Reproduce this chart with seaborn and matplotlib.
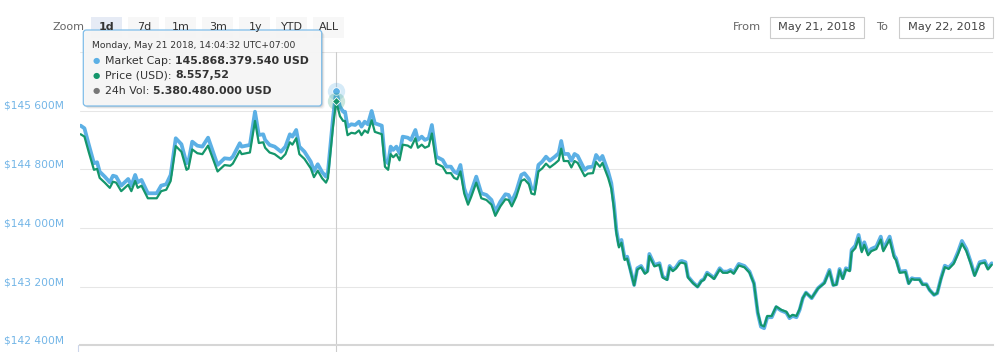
import numpy as np
import pandas as pd
import matplotlib
matplotlib.use("Agg")
import matplotlib.pyplot as plt
import seaborn as sns
from matplotlib.patches import FancyBboxPatch, Rectangle
from matplotlib.lines import Line2D
from matplotlib.transforms import ScaledTranslation

# ---------------- data ----------------
# minutes after 07:20 (May 21, 2018, UTC+07:00)
minutes = [1, 7, 14, 22, 27, 31, 39, 47, 52, 57,
           65, 76, 81, 87, 91, 97, 107, 121, 128, 136,
           143, 151, 160, 168, 171, 177, 185, 193, 202, 217,
           228, 237, 241, 252, 255, 262, 268, 276, 282, 289,
           292, 299, 307, 317, 324, 331, 335, 341, 346, 354,
           364, 369, 375, 382, 388, 391, 399, 404, 410, 415,
           418, 422, 428, 434, 440, 444, 449, 454, 460, 465,
           473, 476, 481, 486, 490, 494, 499, 504, 509, 517,
           522, 529, 533, 539, 544, 550, 555, 562, 567, 572,
           578, 585, 590, 595, 600, 606, 612, 617, 625, 633,
           641, 649, 655, 663, 671, 676, 681, 688, 696, 701,
           708, 712, 717, 723, 729, 735, 741, 749, 755, 759,
           763, 770, 775, 780, 785, 796, 801, 809, 814, 820,
           824, 833, 838, 842, 846, 850, 854, 859, 863, 867,
           874, 879, 885, 891, 895, 898, 906, 914, 919, 926,
           930, 935, 940, 946, 949, 955, 959, 967, 974, 980,
           984, 989, 996, 1000, 1009, 1014, 1021, 1026, 1031, 1039,
           1048, 1056, 1063, 1069, 1074, 1079, 1084, 1091, 1098, 1106,
           1114, 1119, 1124, 1130, 1135, 1140, 1145, 1154, 1164, 1174,
           1182, 1188, 1193, 1198, 1203, 1208, 1214, 1217, 1223, 1228,
           1233, 1237, 1243, 1248, 1256, 1263, 1267, 1277, 1284, 1287,
           1293, 1302, 1307, 1312, 1316, 1324, 1329, 1335, 1340, 1347,
           1352, 1358, 1364, 1370, 1378, 1385, 1391, 1398, 1405, 1411,
           1419, 1427, 1432, 1438]

# Market Cap, millions USD
market_cap = [145396, 145360, 145133, 144883, 144897, 144769, 144701, 144624, 144714, 144701,
              144578, 144669, 144578, 144724, 144624, 144656, 144474, 144474, 144578, 144597,
              144724, 145224, 145142, 144883, 144901, 145178, 145123, 145110, 145232, 144860,
              144951, 144942, 144973, 145156, 145110, 145123, 145133, 145586, 145269, 145278,
              145201, 145133, 145110, 145041, 145110, 145278, 145246, 145337, 145110, 145041,
              144905, 144778, 144870, 144761, 144701, 144761, 145497, 145868.37954, 145655, 145586,
              145586, 145382, 145415, 145405, 145450, 145382, 145450, 145415, 145596, 145428,
              145405, 145396, 144928, 144883, 145110, 145065, 145110, 145020, 145246, 145232,
              145201, 145337, 145201, 145246, 145201, 145224, 145405, 144973, 144951, 144928,
              144837, 144837, 144769, 144747, 144860, 144542, 144383, 144496, 144701, 144474,
              144451, 144383, 144223, 144360, 144461, 144451, 144360, 144496, 144724, 144747,
              144670, 144542, 144529, 144860, 144905, 144973, 144919, 144973, 145020, 145187,
              145010, 145010, 144919, 145010, 144983, 144792, 144829, 144837, 144996, 144928,
              144983, 144769, 144611, 144338, 143974, 143770, 143838, 143588, 143610, 143474,
              143224, 143452, 143483, 143392, 143419, 143647, 143497, 143520, 143338, 143302,
              143483, 143429, 143466, 143542, 143552, 143534, 143338, 143256, 143201, 143283,
              143302, 143392, 143347, 143316, 143452, 143406, 143406, 143429, 143392, 143511,
              143483, 143406, 143248, 142839, 142656, 142634, 142784, 142784, 142921, 142874,
              142847, 142771, 142802, 142784, 142884, 143043, 143120, 143043, 143180, 143256,
              143429, 143224, 143234, 143442, 143316, 143452, 143429, 143702, 143760, 143906,
              143702, 143806, 143656, 143715, 143746, 143883, 143715, 143883, 143624, 143588,
              143406, 143415, 143248, 143316, 143306, 143306, 143234, 143234, 143156, 143088,
              143111, 143316, 143487, 143460, 143534, 143678, 143824, 143715, 143534, 143361,
              143534, 143552, 143452, 143520]

# Price, USD
price = [8529.7, 8527.7, 8514.3, 8499.7, 8500.5, 8492.9, 8488.9, 8484.5, 8489.7, 8488.9,
         8481.7, 8487.1, 8481.7, 8490.3, 8484.5, 8486.3, 8475.7, 8475.7, 8481.7, 8482.9,
         8490.3, 8519.7, 8514.9, 8499.7, 8500.7, 8516.9, 8513.7, 8512.9, 8520.1, 8498.3,
         8503.7, 8503.1, 8504.9, 8515.7, 8512.9, 8513.7, 8514.3, 8540.9, 8522.3, 8522.9,
         8518.3, 8514.3, 8512.9, 8508.9, 8512.9, 8522.9, 8520.9, 8526.3, 8512.9, 8508.9,
         8500.9, 8493.5, 8498.9, 8492.5, 8488.9, 8492.5, 8535.7, 8557.52, 8544.9, 8540.9,
         8540.9, 8528.9, 8530.9, 8530.3, 8532.9, 8528.9, 8532.9, 8530.9, 8541.5, 8531.7,
         8530.3, 8529.7, 8502.3, 8499.7, 8512.9, 8510.3, 8512.9, 8507.7, 8520.9, 8520.1,
         8518.3, 8526.3, 8518.3, 8520.9, 8518.3, 8519.7, 8530.3, 8504.9, 8503.7, 8502.3,
         8496.9, 8496.9, 8492.9, 8491.7, 8498.3, 8479.7, 8470.3, 8476.9, 8488.9, 8475.7,
         8474.3, 8470.3, 8460.9, 8468.9, 8474.9, 8474.3, 8468.9, 8476.9, 8490.3, 8491.7,
         8487.5, 8479.7, 8478.9, 8498.3, 8500.9, 8504.9, 8501.7, 8504.9, 8507.7, 8517.5,
         8507.1, 8507.1, 8501.7, 8507.1, 8505.5, 8494.3, 8496.5, 8496.9, 8506.3, 8502.3,
         8505.5, 8492.9, 8483.7, 8467.7, 8446.3, 8434.3, 8438.3, 8423.7, 8424.9, 8416.9,
         8402.3, 8415.7, 8417.5, 8412.1, 8413.7, 8427.1, 8418.3, 8419.7, 8408.9, 8406.9,
         8417.5, 8414.3, 8416.5, 8420.9, 8421.5, 8420.5, 8408.9, 8404.1, 8400.9, 8405.7,
         8406.9, 8412.1, 8409.5, 8407.7, 8415.7, 8412.9, 8412.9, 8414.3, 8412.1, 8419.1,
         8417.5, 8412.9, 8403.7, 8379.7, 8368.9, 8367.7, 8376.5, 8376.5, 8384.5, 8381.7,
         8380.1, 8375.7, 8377.5, 8376.5, 8382.3, 8391.7, 8396.1, 8391.7, 8399.7, 8404.1,
         8414.3, 8402.3, 8402.9, 8415.1, 8407.7, 8415.7, 8414.3, 8430.3, 8433.7, 8442.3,
         8430.3, 8436.5, 8427.7, 8431.1, 8432.9, 8440.9, 8431.1, 8440.9, 8425.7, 8423.7,
         8412.9, 8413.5, 8403.7, 8407.7, 8407.1, 8407.1, 8402.9, 8402.9, 8398.3, 8394.3,
         8395.7, 8407.7, 8417.7, 8416.1, 8420.5, 8428.9, 8437.5, 8431.1, 8420.5, 8410.3,
         8420.5, 8421.5, 8415.7, 8419.7]

hover_index = 57
volume_24h = 5380480000
hover_label = "Monday, May 21 2018, 14:04:32 UTC+07:00"
y_ticks = [142400, 143200, 144000, 144800, 145600, 146400]
zoom_buttons = ["1d", "7d", "1m", "3m", "1y", "YTD", "ALL"]
date_from = "May 21, 2018"
date_to = "May 22, 2018"

# ---------------- style ----------------
BLUE = "#5cb0e5"
GREEN = "#14966b"
VOLGRAY = "#777777"
LABEL_BLUE = "#72b5e7"

sns.set_theme(style="white")
plt.rcParams['font.family'] = ['DejaVu Sans']

W, H = 1004, 352
fig = plt.figure(figsize=(W / 100, H / 100), dpi=100)


def px(x0, y0, x1, y1):
    return [x0 / W, 1 - y1 / H, (x1 - x0) / W, (y1 - y0) / H]


PLOT_TOP, PLOT_BOTTOM = 52, 345.4
ax = fig.add_axes(px(80, PLOT_TOP, 993, PLOT_BOTTOM))
df = pd.DataFrame({"minute": minutes, "market_cap": market_cap, "price": price})

sns.lineplot(data=df, x="minute", y="market_cap", ax=ax, color=BLUE, lw=2.7,
             estimator=None, sort=False, solid_joinstyle="round", solid_capstyle="round")
ax.set_xlim(0, 1440)
ax.set_ylim(y_ticks[0], y_ticks[-1])
ax.set_xlabel("")
ax.set_ylabel("")
ax.set_xticks([])
ax.set_yticks(y_ticks)
ax.set_yticklabels([f"${v:,.0f}M".replace(",", " ") for v in y_ticks[:-1]] + [""])
ax.tick_params(axis="y", length=0, pad=11.3, labelsize=7.7, labelcolor=LABEL_BLUE)
for lab in ax.get_yticklabels():
    lab.set_transform(lab.get_transform() + ScaledTranslation(0, 5.7 / 100, fig.dpi_scale_trans))
ax.yaxis.grid(True, color="#e6e6e6", lw=0.75)
ax.xaxis.grid(False)
ax.set_axisbelow(True)
for s in ["top", "left", "right"]:
    ax.spines[s].set_visible(False)
ax.spines["bottom"].set_color("#d6d6d6")
ax.spines["bottom"].set_linewidth(1.5)

# crosshair
h = hover_index
ax.axvline(minutes[h], ymin=-(H - PLOT_BOTTOM) / (PLOT_BOTTOM - PLOT_TOP), ymax=1,
           color="#cccccc", lw=0.8, clip_on=False, zorder=1)

ax2 = ax.twinx()
sns.lineplot(data=df, x="minute", y="price", ax=ax2, color=GREEN, lw=1.6,
             estimator=None, sort=False, solid_joinstyle="round", solid_capstyle="round")
ax2.set_ylim(8351.7, 8599.0)
ax2.set_ylabel("")
ax2.set_yticks([])
ax2.grid(False)
for s in ax2.spines.values():
    s.set_visible(False)

# hover markers
ax.plot([minutes[h]], [market_cap[h]], "o", ms=12.5, color=BLUE, alpha=0.25, mec="none", zorder=5)
ax.plot([minutes[h]], [market_cap[h]], "o", ms=5.5, color=BLUE, mec="white", mew=0.6, zorder=6)
ax2.plot([minutes[h]], [price[h]], "o", ms=12.5, color=GREEN, alpha=0.22, mec="none", zorder=5)
ax2.plot([minutes[h]], [price[h]], "D", ms=4.2, color=GREEN, mec="white", mew=0.6, zorder=6)

# small x tick at left
fig.add_artist(Line2D([78 / W, 78 / W], [1 - 345.4 / H, 0], color="#ccd6eb", lw=0.8))

# ---------------- UI overlay ----------------
ui = fig.add_axes([0, 0, 1, 1], zorder=10)
ui.set_xlim(0, W)
ui.set_ylim(H, 0)
ui.axis("off")
ui.patch.set_alpha(0)

ui.text(53, 27.5, "Zoom", fontsize=8, color="#666666", va="center", ha="left")
for i, lab in enumerate(zoom_buttons):
    x0 = 91 + i * 37.05
    ui.add_patch(Rectangle((x0, 16.7), 31, 21.6, facecolor="#e6ebf5" if i == 0 else "#f7f7f7",
                           edgecolor="none"))
    ui.text(x0 + 16, 27.3, lab, fontsize=8, color="#333333", ha="center", va="center",
            fontweight="bold" if i == 0 else "normal")

ui.text(733, 27.5, "From", fontsize=8.2, color="#666666", va="center", ha="left")
ui.add_patch(Rectangle((770, 17.3), 94.3, 21, facecolor="white", edgecolor="#cccccc", lw=0.8))
ui.text(817, 27.5, date_from, fontsize=8.2, color="#444444", va="center", ha="center")
ui.text(876, 27.5, "To", fontsize=8.2, color="#666666", va="center", ha="left")
ui.add_patch(Rectangle((899.3, 17.3), 94, 21, facecolor="white", edgecolor="#cccccc", lw=0.8))
ui.text(946.3, 27.5, date_to, fontsize=8.2, color="#444444", va="center", ha="center")

# tooltip
tx0, ty0, tw, th = 83.3, 30, 238.4, 76
for k, a in [(3, 0.04), (2, 0.07), (1, 0.1)]:
    ui.add_patch(FancyBboxPatch((tx0 + k, ty0 + k), tw, th, boxstyle="round,pad=0,rounding_size=3",
                                facecolor=(0, 0, 0, a), edgecolor="none"))
ui.add_patch(FancyBboxPatch((tx0, ty0), tw, th, boxstyle="round,pad=0,rounding_size=3",
                            facecolor=(0.97, 0.97, 0.97, 0.96), edgecolor="#7fbde9", lw=0.9))
ui.text(92, 45, hover_label, fontsize=6.6, color="#333333", va="center", ha="left")

renderer = fig.canvas.get_renderer()
mcap_str = f"{market_cap[h] * 1e6:,.0f}".replace(",", ".") + " USD"
price_str = f"{price[h]:,.2f}".replace(",", "X").replace(".", ",").replace("X", ".")
vol_str = f"{volume_24h:,.0f}".replace(",", ".") + " USD"
rows = [("Market Cap: ", mcap_str, BLUE), ("Price (USD): ", price_str, GREEN),
        ("24h Vol: ", vol_str, VOLGRAY)]
for j, (name, val, col) in enumerate(rows):
    yy = 60.5 + j * 15
    ui.text(96.5, yy, "●", fontsize=6, color=col, va="center", ha="center")
    t = ui.text(105, yy, name, fontsize=7.9, color="#333333", va="center", ha="left")
    wpx = t.get_window_extent(renderer=renderer).width
    ui.text(105 + wpx, yy, val, fontsize=7.9, color="#333333", va="center", ha="left",
            fontweight="bold")

fig.savefig("out.png", dpi=100)
